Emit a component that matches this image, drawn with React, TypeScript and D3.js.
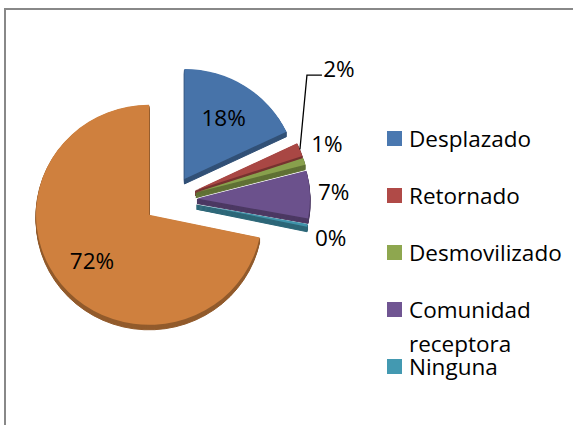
import React from 'react';
import * as d3 from 'd3';

// the sixth (orange) category is cut off from the legend in the original chart
const categories = ['Desplazado', 'Retornado', 'Desmovilizado', 'Comunidad receptora', 'Ninguna', 'Otros'];
const values = [18, 2, 1, 7, 0.4, 72];
const swatchColors = ['#4a78b0', '#b04a47', '#8ea74f', '#705592', '#4399b1', '#d88641'];
const legendCount = 5;

const W = 573;
const H = 425;
const cx = 170;
const cy = 199.5;
const rx = 113;
const ry = 110;
const explodeX = 27;
const explodeY = 24.3;
const depth = 5;
const font = "'Open Sans', sans-serif";

const App = () => {
  const total = d3.sum(values);
  const k = ry / rx;
  const pct = d3.format('.0%');

  const pieData = d3.pie<number>().sort(null).value((d) => d)(values);
  const arc = d3.arc<d3.PieArcDatum<number>>().innerRadius(0).outerRadius(rx);

  const slices = pieData.map((p, i) => {
    const mid = (p.startAngle + p.endAngle) / 2;
    const ox = cx + explodeX * Math.sin(mid);
    const oy = cy - explodeY * Math.cos(mid);
    const share = p.value / total;
    const inside = share >= 0.1;
    const fx = inside ? 0.65 : 1.21;
    const fy = inside ? 0.66 : 1.57;
    let lx = ox + fx * rx * Math.sin(mid);
    let ly = oy - fy * ry * Math.cos(mid);
    let leader = null as null | string;
    // Retornado's label collides with the next one and gets pulled up with a leader line
    if (i === 1) {
      const ex = ox + rx * Math.sin(mid);
      const ey = oy - ry * Math.cos(mid);
      lx += 17;
      ly -= 57;
      const left = lx - 15;
      leader = `M${ex},${ey}L${left - 17},${ly + 6}L${left - 2},${ly + 6}`;
    }
    const base = d3.color(swatchColors[i])!;
    return {
      p,
      i,
      ox,
      oy,
      top: base.darker(0.12).formatHex(),
      side: base.darker(1.1).formatHex(),
      zy: oy + arc.centroid(p)[1] * k,
      lx,
      ly,
      leader,
      text: pct(share),
    };
  });

  const order = [...slices].sort((a, b) => a.zy - b.zy);

  const legendY = d3
    .scalePoint<string>()
    .domain(categories.slice(0, legendCount))
    .range([131, 359]);

  return (
    <div style={{ position: 'absolute', left: 0, top: 0 }}>
      <svg width={W} height={H} style={{ display: 'block', background: '#fff' }}>
        <rect x={5} y={9} width={W + 20} height={H + 20} fill="#fff" stroke="#888" strokeWidth={2} />

        {order.map((s) => (
          <g key={s.i}>
            {d3.range(depth, 0, -1).map((j) => (
              <path
                key={j}
                d={arc(s.p) || ''}
                transform={`translate(${s.ox},${s.oy + j}) scale(1,${k})`}
                fill={s.side}
                stroke={s.side}
                strokeWidth={1}
                vectorEffect="non-scaling-stroke"
              />
            ))}
            <path d={arc(s.p) || ''} transform={`translate(${s.ox},${s.oy}) scale(1,${k})`} fill={s.top} />
          </g>
        ))}

        {slices.map((s) =>
          s.leader ? <path key={'l' + s.i} d={s.leader} fill="none" stroke="#000" strokeWidth={1.3} /> : null
        )}

        {slices.map((s) => (
          <text
            key={'t' + s.i}
            x={s.lx}
            y={s.ly}
            dy="0.36em"
            textAnchor="middle"
            fontFamily={font}
            fontSize={22.5}
            fill="#000"
          >
            {s.text}
          </text>
        ))}

        {categories.slice(0, legendCount).map((c, i) => {
          const y = legendY(c)!;
          const words = c.split(' ');
          return (
            <g key={c}>
              <rect x={387} y={y} width={15} height={15} fill={swatchColors[i]} />
              <text x={409} y={y + 15.5} fontFamily={font} fontSize={22.5} fill="#000">
                {words.map((w, j) => (
                  <tspan key={j} x={409} dy={j === 0 ? 0 : 34}>
                    {w}
                  </tspan>
                ))}
              </text>
            </g>
          );
        })}
      </svg>
    </div>
  );
};

export default App;
